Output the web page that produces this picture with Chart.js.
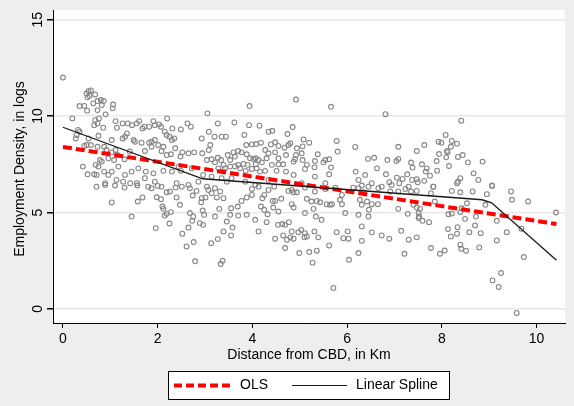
<!DOCTYPE html>
<html>
<head>
<meta charset="utf-8">
<script src="https://cdn.jsdelivr.net/npm/chart.js@4.4.1/dist/chart.umd.min.js"></script>
<style>
  html, body { margin: 0; padding: 0; background: #eeeeee; }
  #wrap { width: 574px; height: 406px; }
</style>
</head>
<body>
<div id="wrap"><canvas id="chart" width="574" height="406"></canvas></div>
<script>
// axis ticks and labels
const xTicks = [0, 2, 4, 6, 8, 10];
const yTicks = [0, 5, 10, 15];
const xTitle = 'Distance from CBD, in Km';
const yTitle = 'Employment Density, in logs';
const legendLabels = ['OLS', 'Linear Spline'];

// fitted lines (distance, predicted log density)
const olsX = [0, 10.42];
const olsY = [8.4, 4.4];
const splineX = [0, 2.95, 8.85, 9.05, 10.42];
const splineY = [9.42, 6.75, 5.66, 5.5, 2.52];

// observations: [distance km, employment density (logs)]
const observations = [
  [0.0,12.0],[0.54,11.29],[0.59,11.33],[0.50,11.17],[0.56,11.05],[0.68,11.12],[0.52,10.97],[0.64,10.66],[0.73,10.78],[0.80,10.83],
  [0.86,10.78],[0.82,10.57],[0.35,10.52],[0.45,10.53],[0.73,10.31],[0.51,10.28],[0.90,10.09],[1.06,10.60],[1.05,10.40],[3.05,10.14],
  [0.20,9.88],[0.76,9.88],[0.68,9.79],[0.73,9.62],[0.66,9.53],[0.85,9.40],[1.11,9.74],[1.14,9.40],[1.26,9.62],[1.37,9.62],
  [1.46,9.53],[1.56,9.62],[1.61,9.74],[1.72,9.45],[1.68,9.36],[1.82,9.45],[1.91,9.74],[1.94,9.53],[2.03,9.57],[2.07,9.45],
  [2.20,9.88],[2.31,9.36],[2.49,9.31],[2.63,9.62],[2.70,9.45],[2.15,9.19],[2.19,9.02],[2.25,8.93],[2.35,8.84],[2.30,8.76],
  [1.35,9.10],[1.31,8.93],[1.26,8.84],[1.49,8.76],[1.03,8.76],[0.75,8.98],[0.54,8.84],[0.59,8.50],[0.50,8.50],[0.45,8.45],
  [0.32,9.28],[0.29,9.02],[0.27,8.84],[0.35,9.19],[0.87,8.41],[0.73,8.41],[0.92,8.24],[1.03,8.12],[1.11,8.24],[1.15,7.98],
  [0.78,7.72],[0.69,7.47],[0.75,7.38],[0.82,7.64],[0.96,7.81],[1.08,7.72],[1.30,7.76],[1.41,8.16],[1.52,8.67],[1.66,8.62],
  [1.73,8.19],[1.82,8.62],[1.87,8.67],[1.94,8.76],[1.87,8.41],[2.01,8.50],[2.12,8.41],[2.08,8.19],[2.19,7.98],[2.28,8.02],
  [2.37,8.33],[2.48,7.90],[2.52,8.12],[2.65,8.07],[2.77,8.12],[2.94,8.07],[2.93,8.84],[3.08,9.19],[3.11,8.50],[3.20,8.93],
  [3.27,9.62],[3.35,8.93],[3.08,8.24],[3.14,7.76],[3.04,7.72],[3.21,7.60],[3.34,7.72],[3.39,7.47],[3.27,7.84],[0.42,7.38],
  [0.52,6.98],[0.66,6.98],[0.71,6.95],[0.87,7.12],[0.96,6.95],[1.03,7.12],[1.17,7.38],[1.31,6.95],[1.45,7.12],[1.59,7.29],
  [1.75,7.12],[1.91,7.03],[2.12,7.16],[2.30,7.12],[2.44,7.38],[2.49,7.16],[2.72,7.29],[2.96,6.95],[3.14,6.86],[3.28,7.29],
  [3.39,7.12],[0.71,6.34],[0.89,6.52],[1.13,6.69],[1.27,6.60],[1.42,6.52],[1.56,6.52],[1.73,6.78],[1.94,6.60],[2.08,6.34],
  [2.40,6.52],[2.51,6.34],[2.65,6.43],[2.86,6.60],[3.04,6.34],[3.21,6.26],[3.35,6.78],
  [4.92,10.86],[3.94,10.52],[5.66,10.48],[6.81,10.10],[3.62,9.67],[3.93,9.53],[4.15,9.50],[4.34,9.19],[4.42,9.24],[4.85,9.43],
  [4.74,9.07],[3.83,9.02],[3.44,8.93],[5.08,8.79],[5.20,8.62],[5.78,8.71],[6.17,8.40],[3.87,8.50],[3.99,8.53],[4.08,8.55],
  [4.18,8.62],[4.27,8.24],[4.39,8.53],[4.48,8.64],[4.55,8.45],[4.68,8.36],[4.76,8.50],[4.80,8.59],[4.94,8.33],[5.06,8.43],
  [5.04,8.07],[4.92,7.98],[4.71,7.98],[4.48,8.12],[4.34,8.07],[4.55,7.81],[5.38,8.02],[5.80,8.16],[3.70,8.19],[3.60,8.12],
  [3.48,7.98],[3.53,7.72],[3.63,7.90],[3.77,8.12],[3.88,8.02],[3.95,7.81],[4.02,7.78],[4.07,7.81],[4.13,7.72],[3.70,7.47],
  [3.81,7.52],[3.90,7.47],[4.07,7.50],[4.20,7.60],[4.30,7.81],[4.41,7.47],[4.55,7.50],[4.65,7.50],[4.87,7.64],[4.90,7.76],
  [5.06,7.72],[5.15,7.47],[5.32,7.67],[5.50,7.60],[5.54,7.72],[5.62,7.76],[5.66,7.34],[5.31,7.34],[5.11,7.26],[4.87,6.95],
  [4.71,7.12],[4.51,7.16],[4.27,7.16],[4.16,7.12],[4.09,7.29],[3.99,7.26],[3.86,7.16],[3.74,7.29],[3.63,7.40],[3.53,7.38],
  [3.42,7.29],[5.32,6.86],[5.62,6.98],[6.18,7.12],[6.38,6.95],[6.57,7.84],[6.44,7.78],[6.63,7.29],[6.85,7.72],[6.82,6.98],
  [6.52,6.52],[6.89,6.57],[6.94,6.43],[6.73,6.34],[6.24,6.69],[6.31,6.40],[6.13,6.29],[5.54,6.52],[5.04,6.52],[4.34,6.69],
  [3.56,6.78],[3.46,6.60],[3.85,6.60],[4.06,6.43],
  [8.41,9.76],[8.08,9.02],[7.93,8.67],[7.99,8.62],[8.21,8.71],[8.32,8.57],[7.63,8.50],[7.08,8.41],[7.47,8.19],[8.19,8.41],
  [8.11,8.19],[8.12,8.12],[7.94,8.03],[8.44,7.98],[8.34,7.88],[8.09,7.86],[7.08,7.78],[7.04,7.67],[7.35,7.59],[7.58,7.50],
  [7.38,7.33],[7.68,7.29],[7.89,7.67],[8.15,7.41],[8.55,7.60],[8.86,7.64],[8.67,7.03],[7.90,7.17],[7.66,7.12],[7.75,6.91],
  [7.27,6.98],[7.17,6.74],[7.05,6.81],[7.37,6.69],[7.47,6.72],[7.49,6.57],[7.63,6.64],[7.10,6.52],[7.82,6.34],[8.39,6.78],
  [8.34,6.60],[8.32,6.52],[8.77,6.69],[9.06,6.40],
  [0.89,6.43],[1.10,6.40],[1.30,6.29],[1.57,6.40],[1.80,6.34],[1.87,6.26],[2.00,6.38],[2.19,6.05],[2.26,6.09],[2.40,5.78],
  [1.68,5.78],[1.58,5.57],[1.03,5.52],[1.98,5.79],[2.07,5.69],[2.10,5.31],[2.12,5.19],[2.15,4.84],[2.19,4.93],[2.28,5.02],
  [2.47,5.40],[2.38,6.29],[2.68,6.26],[2.74,5.88],[2.82,6.12],[2.93,5.74],[3.01,5.78],[2.92,5.53],[3.07,6.17],[3.14,6.00],
  [3.25,5.78],[3.32,6.09],[3.39,5.74],[3.30,5.19],[3.21,4.79],[2.95,5.10],[2.98,4.88],[2.68,4.97],[2.75,4.79],[2.73,4.57],
  [2.89,4.45],[2.96,4.36],[2.65,4.22],[2.52,3.90],[1.96,4.19],[2.25,4.43],[1.45,4.79],[2.61,3.24],[2.76,3.47],[3.13,3.41],
  [3.27,3.62],[3.39,4.02],[2.79,2.47],[3.33,2.33],[3.37,2.50],
  [3.99,6.22],[4.13,6.34],[4.34,6.17],[4.46,6.34],[4.83,6.17],[4.94,6.05],[5.11,6.29],[5.32,6.09],[5.54,6.22],[5.75,6.29],
  [5.89,5.91],[6.24,6.26],[6.35,6.05],[6.45,6.34],[6.66,6.26],[6.91,6.09],[3.77,5.60],[3.88,5.78],[3.99,5.91],[4.21,5.74],
  [4.25,5.91],[4.43,5.60],[4.48,5.60],[4.61,5.71],[4.76,6.12],[4.87,6.05],[5.15,5.71],[5.25,5.57],[5.36,5.60],[5.43,5.53],
  [5.57,5.43],[5.64,5.40],[5.85,5.66],[5.89,5.43],[6.27,5.66],[6.31,5.40],[6.42,5.57],[6.46,5.14],[6.52,5.43],[6.65,5.43],
  [3.55,5.22],[3.69,5.31],[3.53,4.88],[3.70,4.84],[3.88,4.88],[4.18,5.31],[4.25,5.14],[4.32,4.91],[4.44,5.26],[4.55,5.05],
  [4.83,5.43],[4.87,5.26],[5.29,5.19],[5.11,4.97],[5.34,4.79],[5.46,4.62],[5.68,5.43],[5.96,4.97],[6.24,4.88],[6.45,4.79],
  [3.46,4.53],[3.58,4.22],[3.55,3.81],[4.06,4.62],[4.13,4.02],[4.30,4.50],[4.54,4.36],[4.63,4.40],[4.69,4.36],[4.77,4.50],
  [4.48,3.64],[4.65,3.81],[4.73,3.59],[4.80,3.71],[4.87,3.64],[4.83,4.02],[4.97,3.98],[5.03,4.10],[5.11,3.93],[5.10,3.71],
  [5.15,3.76],[5.31,4.02],[5.39,3.71],[4.69,3.16],[4.99,2.90],[5.20,2.95],[5.36,3.02],[5.27,2.40],[5.62,3.29],[5.78,3.98],
  [5.92,3.67],[6.01,4.02],[6.03,3.64],[6.31,4.28],[6.31,3.53],[6.52,3.97],[6.73,3.81],[6.89,3.64],[6.24,2.90],[6.04,2.55],
  [5.71,1.09],
  [7.08,6.09],[7.23,6.22],[7.35,6.09],[7.47,6.12],[7.30,6.34],[7.82,6.34],[7.77,6.00],[8.21,6.12],[8.39,6.05],[8.65,6.09],
  [8.95,5.95],[9.06,6.38],[9.46,6.09],[9.48,5.66],[9.82,5.57],[10.41,5.00],[7.08,5.19],[7.28,4.93],[7.40,5.40],[7.47,5.26],
  [7.54,5.19],[7.51,4.97],[7.52,4.79],[7.51,4.71],[7.59,4.57],[7.73,4.50],[7.85,5.57],[8.14,4.91],[8.21,4.95],[8.39,5.02],
  [8.42,5.22],[8.53,5.48],[8.49,4.67],[8.72,4.79],[8.92,5.40],[9.16,4.57],[7.14,4.05],[7.30,3.59],[7.47,3.71],[8.13,4.14],
  [8.19,3.76],[8.33,4.24],[8.32,3.90],[8.58,3.98],[8.70,4.33],[8.82,3.93],[9.37,3.98],[9.16,3.55],[7.77,3.16],[7.96,2.86],
  [8.06,3.03],[8.39,3.33],[8.41,3.12],[8.51,3.02],[8.79,3.19],[7.21,2.86],[9.68,4.16],[9.73,2.69],[9.25,1.86],[9.07,1.48],
  [9.20,1.14],[9.58,-0.21]
];

const FONT = '"Liberation Sans", Arial, sans-serif';

// fond gris, zone du graphique blanche, titres et légende
const decor = {
  id: 'decor',
  beforeDraw(chart) {
    const { ctx, chartArea: a } = chart;
    ctx.save();
    ctx.fillStyle = '#eeeeee';
    ctx.fillRect(0, 0, chart.width, chart.height);
    ctx.fillStyle = '#ffffff';
    ctx.fillRect(a.left, a.top, a.right - a.left, a.bottom - a.top);
    ctx.restore();
  },
  afterDraw(chart) {
    const { ctx } = chart;
    const ys = chart.scales.y;
    const a = chart.chartArea;
    ctx.save();
    ctx.fillStyle = '#000';
    ctx.font = '14px ' + FONT;
    ctx.textAlign = 'center';
    ctx.textBaseline = 'middle';
    // y tick labels (rotated, Stata style)
    yTicks.forEach(v => {
      ctx.save();
      ctx.translate(38, ys.getPixelForValue(v));
      ctx.rotate(-Math.PI / 2);
      ctx.fillText(String(v), 0, 0);
      ctx.restore();
    });
    // y title
    ctx.save();
    ctx.translate(20, 169);
    ctx.rotate(-Math.PI / 2);
    ctx.fillText(yTitle, 0, 0);
    ctx.restore();
    // x title
    ctx.fillText(xTitle, (a.left + a.right) / 2, 355);

    // legend box
    ctx.fillStyle = '#fff';
    ctx.fillRect(168.5, 371.5, 281, 28);
    ctx.strokeStyle = '#000';
    ctx.lineWidth = 1;
    ctx.strokeRect(168.5, 371.5, 281, 28);
    const ly = 385.5;
    ctx.beginPath();
    ctx.strokeStyle = '#ff0000';
    ctx.lineWidth = 4;
    ctx.setLineDash([8, 4]);
    ctx.moveTo(174, ly); ctx.lineTo(232, ly);
    ctx.stroke();
    ctx.setLineDash([]);
    ctx.beginPath();
    ctx.strokeStyle = '#1a1a1a';
    ctx.lineWidth = 1.2;
    ctx.moveTo(292, ly); ctx.lineTo(347, ly);
    ctx.stroke();
    ctx.fillStyle = '#000';
    ctx.textAlign = 'left';
    ctx.fillText(legendLabels[0], 240, ly);
    ctx.fillText(legendLabels[1], 356, ly);
    ctx.restore();
  }
};

const toPoints = (xs, ys) => xs.map((x, i) => ({ x: x, y: ys[i] }));

const ctx = document.getElementById('chart').getContext('2d');
const chart = new Chart(ctx, {
  type: 'scatter',
  data: {
    datasets: [
      {
        label: legendLabels[1],
        data: toPoints(splineX, splineY),
        showLine: true,
        borderColor: '#1a1a1a',
        borderWidth: 1.3,
        pointRadius: 0,
        order: 0
      },
      {
        label: legendLabels[0],
        data: toPoints(olsX, olsY),
        showLine: true,
        borderColor: '#ff0000',
        borderWidth: 4,
        borderDash: [9, 4],
        pointRadius: 0,
        order: 1
      },
      {
        label: 'Employment density',
        data: observations.map(p => ({ x: p[0], y: p[1] })),
        pointRadius: 2.4,
        pointBorderWidth: 1.1,
        borderColor: '#858585',
        backgroundColor: 'rgba(255,255,255,0)',
        order: 2
      }
    ]
  },
  options: {
    responsive: false,
    animation: false,
    events: [],
    layout: { padding: { left: 0, right: 9, top: 10, bottom: 0 } },
    plugins: { legend: { display: false }, tooltip: { enabled: false } },
    scales: {
      x: {
        type: 'linear',
        min: -0.21,
        max: 10.6,
        afterBuildTicks: s => { s.ticks = xTicks.map(v => ({ value: v })); },
        afterFit: s => { s.height = 83; },
        ticks: { color: '#000', font: { family: FONT, size: 14 }, padding: 3, maxRotation: 0 },
        grid: { drawOnChartArea: false, tickLength: 5, tickColor: '#000' },
        border: { color: '#000', width: 1 }
      },
      y: {
        type: 'linear',
        min: -0.73,
        max: 15.5,
        afterBuildTicks: s => { s.ticks = yTicks.map(v => ({ value: v })); },
        afterFit: s => { s.width = 53; },
        ticks: { display: false },
        grid: { color: '#e8e8e8', lineWidth: 1.5, tickLength: 6, tickColor: '#000' },
        border: { color: '#000', width: 1 }
      }
    }
  },
  plugins: [decor]
});
</script>
</body>
</html>
